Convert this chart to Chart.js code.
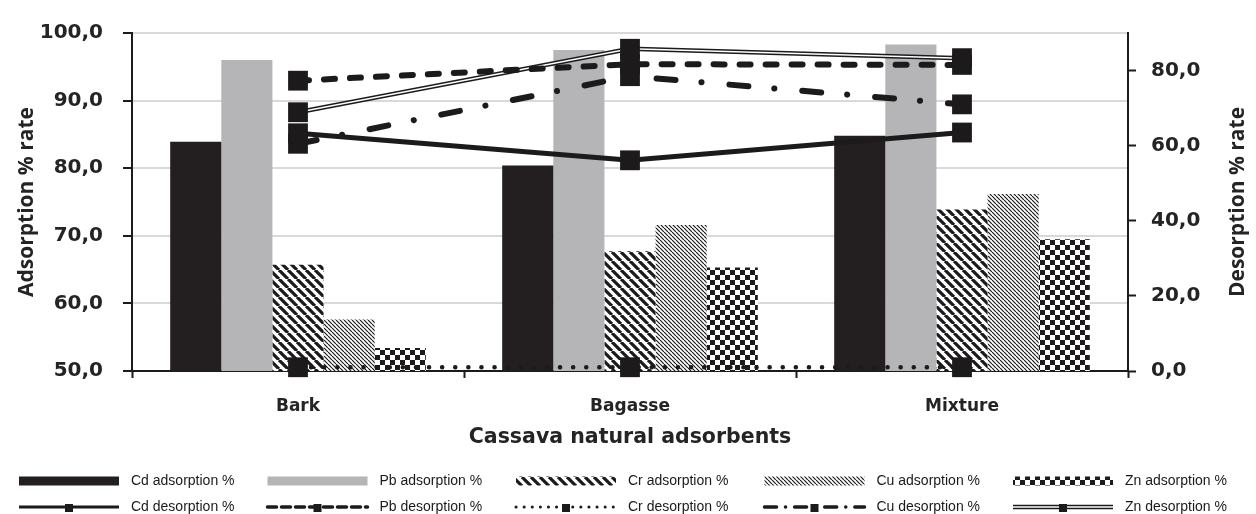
<!DOCTYPE html>
<html>
<head>
<meta charset="utf-8">
<script src="https://cdn.jsdelivr.net/npm/chart.js@4.4.0/dist/chart.umd.min.js"></script>
<style>
  html, body { margin: 0; padding: 0; background: #fff; }
</style>
</head>
<body>
<canvas id="chart" width="1256" height="514"></canvas>
<script>
// Values
const categories = ['Bark', 'Bagasse', 'Mixture'];

const cdAdsorption = [83.9, 80.4, 84.8];
const pbAdsorption = [96.0, 97.5, 98.3];
const crAdsorption = [65.7, 67.7, 73.9];
const cuAdsorption = [57.6, 71.6, 76.2];
const znAdsorption = [53.4, 65.3, 69.5];

const cdDesorption = [63.3, 56.1, 63.5];
const pbDesorption = [77.3, 81.7, 81.5];
const crDesorption = [1.0, 1.0, 1.0];
const cuDesorption = [60.5, 78.5, 71.0];
const znDesorption = [68.9, 85.8, 83.3];

const adsorptionTicks = [50, 60, 70, 80, 90, 100];
const desorptionTicks = [0, 20, 40, 60, 80];

const INK = '#1c1a1b';
const TEXT = '#242424';
const BOLD_FONT = 'DejaVu Sans';
const TITLE_FONT = 'Open Sans';
const LEGEND_FONT = "'Liberation Sans', sans-serif";
const RIGHT_TITLE = 'Desorption % rate';

// Fill patterns for the hatched bars
function stripePattern(size, width) {
    const c = document.createElement('canvas');
    c.width = c.height = size;
    const g = c.getContext('2d');
    g.fillStyle = '#fff';
    g.fillRect(0, 0, size, size);
    g.strokeStyle = INK;
    g.lineWidth = width;
    g.beginPath();
    for (let k = -1; k <= 1; k++) {
        g.moveTo(k * size, 0);
        g.lineTo(k * size + size, size);
    }
    g.stroke();
    return g.createPattern(c, 'repeat');
}

function checkerPattern(cell) {
    const c = document.createElement('canvas');
    c.width = c.height = cell * 2;
    const g = c.getContext('2d');
    g.fillStyle = '#fff';
    g.fillRect(0, 0, cell * 2, cell * 2);
    g.fillStyle = INK;
    g.fillRect(0, 0, cell, cell);
    g.fillRect(cell, cell, cell, cell);
    return g.createPattern(c, 'repeat');
}

const fmt = v => v.toFixed(1).replace('.', ',');

// Right axis title reads bottom-to-top like the left one
const rightTitle = {
    id: 'rightTitle',
    afterDraw(chart) {
        const ctx = chart.ctx;
        const area = chart.chartArea;
        ctx.save();
        ctx.translate(1238, (area.top + area.bottom) / 2);
        ctx.rotate(-Math.PI / 2);
        ctx.font = 'bold 21px ' + TITLE_FONT;
        ctx.fillStyle = TEXT;
        ctx.textAlign = 'center';
        ctx.textBaseline = 'middle';
        ctx.fillText(RIGHT_TITLE, 0, 0);
        ctx.restore();
    }
};

// Legend drawn as a 2 x 5 grid under the axis title
const gridLegend = {
    id: 'gridLegend',
    afterDraw(chart) {
        const ctx = chart.ctx;
        const items = chart.data.datasets.filter(d => !d.legendSkip);
        const colStart = 19, colStep = 248.5, sampleW = 100;
        const rows = [481, 507];
        ctx.save();
        ctx.font = '14px ' + LEGEND_FONT;
        ctx.textBaseline = 'middle';
        ctx.fillStyle = '#1a1a1a';
        items.forEach((ds, i) => {
            const row = ds.type === 'line' ? 1 : 0;
            const col = row ? i - 5 : i;
            const x = colStart + col * colStep;
            const y = rows[row];
            ctx.save();
            if (ds.type !== 'line') {
                ctx.fillStyle = ds.backgroundColor;
                ctx.fillRect(x, y - 4.5, sampleW, 9);
            } else {
                ctx.lineCap = ds.borderCapStyle || 'butt';
                ctx.setLineDash(ds.legendDash || []);
                ctx.beginPath();
                ctx.moveTo(x, y);
                ctx.lineTo(x + sampleW, y);
                if (ds.legendDouble) {
                    ctx.strokeStyle = INK;
                    ctx.lineWidth = 4.5;
                    ctx.stroke();
                    ctx.strokeStyle = '#fff';
                    ctx.lineWidth = 1.5;
                    ctx.stroke();
                } else {
                    ctx.strokeStyle = INK;
                    ctx.lineWidth = ds.legendWidth;
                    ctx.stroke();
                }
                ctx.setLineDash([]);
                ctx.fillStyle = INK;
                ctx.fillRect(x + sampleW / 2 - 4, y - 3, 8, 8);
            }
            ctx.restore();
            ctx.fillText(ds.label, x + sampleW + 12, y);
        });
        ctx.restore();
    }
};

const lineBase = {
    type: 'line',
    yAxisID: 'y2',
    borderColor: INK,
    pointStyle: 'rect',
    pointRadius: 14,
    pointHoverRadius: 14,
    pointBackgroundColor: INK,
    pointBorderWidth: 0,
    tension: 0,
    clip: false,
    fill: false
};

const barBase = {
    type: 'bar',
    yAxisID: 'y',
    borderWidth: 0,
    categoryPercentage: 0.77,
    barPercentage: 1.0,
    order: 10
};

const ctx = document.getElementById('chart').getContext('2d');

new Chart(ctx, {
    type: 'bar',
    data: {
        labels: categories,
        datasets: [
            { ...barBase, label: 'Cd adsorption %', data: cdAdsorption, backgroundColor: '#231f20' },
            { ...barBase, label: 'Pb adsorption %', data: pbAdsorption, backgroundColor: '#b5b5b8' },
            { ...barBase, label: 'Cr adsorption %', data: crAdsorption, backgroundColor: stripePattern(9, 3.2) },
            { ...barBase, label: 'Cu adsorption %', data: cuAdsorption, backgroundColor: stripePattern(4, 1.2) },
            { ...barBase, label: 'Zn adsorption %', data: znAdsorption, backgroundColor: checkerPattern(5) },

            { ...lineBase, label: 'Cd desorption %', data: cdDesorption, borderWidth: 5,
              legendWidth: 3, order: 1 },
            { ...lineBase, label: 'Pb desorption %', data: pbDesorption, borderWidth: 6,
              borderDash: [11, 15], borderCapStyle: 'round', legendDash: [9, 5], legendWidth: 3.5, order: 2 },
            { ...lineBase, label: 'Cr desorption %', data: crDesorption, borderWidth: 4.5,
              borderDash: [0.1, 13], borderCapStyle: 'round', legendDash: [0.1, 8], legendWidth: 3, order: 3 },
            { ...lineBase, label: 'Cu desorption %', data: cuDesorption, borderWidth: 6,
              borderDash: [19, 26, 0.1, 28], borderCapStyle: 'round', legendDash: [12, 9, 0.1, 9], legendWidth: 3.5, order: 4 },
            // Zn: white core line carrying the markers, drawn over a black outer line
            { ...lineBase, label: 'Zn desorption %', data: znDesorption, borderColor: '#ffffff', borderWidth: 1.5,
              legendDouble: true, order: 5 },
            { ...lineBase, label: 'Zn outer', data: znDesorption, borderWidth: 4.5, pointRadius: 0,
              legendSkip: true, order: 6 }
        ]
    },
    options: {
        responsive: false,
        animation: false,
        layout: { padding: { left: 0, right: 0, top: 33, bottom: 63 } },
        plugins: {
            legend: { display: false },
            tooltip: { enabled: false }
        },
        scales: {
            x: {
                offset: true,
                grid: { display: true, offset: true, drawOnChartArea: false, tickLength: 7, tickColor: INK, tickWidth: 2 },
                border: { color: INK, width: 2 },
                ticks: { color: TEXT, padding: 18, font: { family: BOLD_FONT, size: 17, weight: 'bold' } },
                title: {
                    display: true,
                    text: 'Cassava natural adsorbents',
                    color: TEXT,
                    padding: { top: 0, bottom: 1 },
                    font: { family: BOLD_FONT, size: 20.5, weight: 'bold' }
                },
                afterFit: s => { s.height = 80; }
            },
            y: {
                position: 'left',
                min: 50,
                max: 100,
                afterBuildTicks: s => { s.ticks = adsorptionTicks.map(v => ({ value: v })); },
                grid: { color: '#d9d9d9', lineWidth: 2, tickColor: INK, tickLength: 9, tickWidth: 2 },
                border: { color: INK, width: 2 },
                ticks: { color: TEXT, padding: 20, callback: v => fmt(v), font: { family: BOLD_FONT, size: 20, weight: 'bold' } },
                title: {
                    display: true,
                    text: 'Adsorption % rate',
                    color: TEXT,
                    padding: { top: 14, bottom: 0 },
                    font: { family: TITLE_FONT, size: 21, weight: 'bold' }
                },
                afterFit: s => { s.width = 132; }
            },
            y2: {
                position: 'right',
                min: 0,
                max: 90,
                afterBuildTicks: s => { s.ticks = desorptionTicks.map(v => ({ value: v })); },
                grid: { drawOnChartArea: false, tickColor: INK, tickLength: 8, tickWidth: 2 },
                border: { color: INK, width: 2 },
                ticks: { color: TEXT, padding: 15, callback: v => fmt(v), font: { family: BOLD_FONT, size: 20, weight: 'bold' } },
                afterFit: s => { s.width = 128; }
            }
        }
    },
    plugins: [gridLegend, rightTitle]
});
</script>
</body>
</html>
